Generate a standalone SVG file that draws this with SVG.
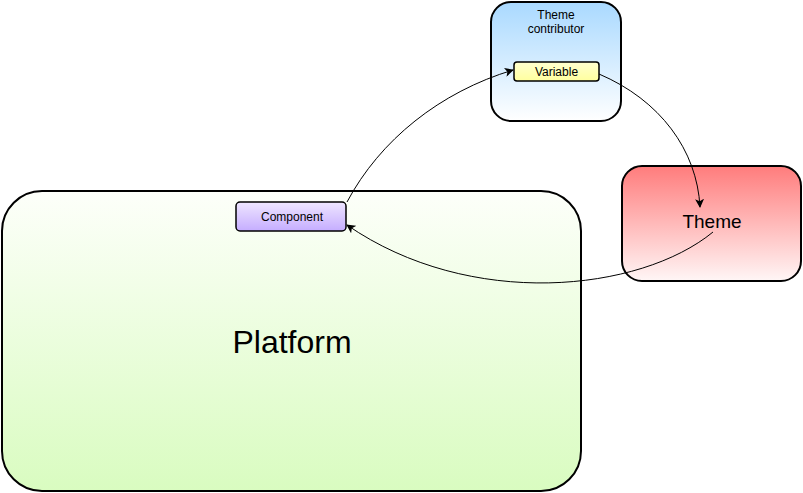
<svg xmlns="http://www.w3.org/2000/svg" width="803" height="493" viewBox="0 0 803 493">
<defs>
<linearGradient id="gPlat" x1="0" y1="0" x2="0" y2="1"><stop offset="0" stop-color="#fdfffa"/><stop offset="1" stop-color="#d9fcc0"/></linearGradient>
<linearGradient id="gTc" x1="0" y1="0" x2="0" y2="1"><stop offset="0" stop-color="#a9d9ff"/><stop offset="1" stop-color="#ffffff"/></linearGradient>
<linearGradient id="gVar" x1="0" y1="0" x2="0" y2="1"><stop offset="0" stop-color="#ffffd0"/><stop offset="1" stop-color="#ffff9e"/></linearGradient>
<linearGradient id="gTheme" x1="0" y1="0" x2="0" y2="1"><stop offset="0" stop-color="#ff7c7c"/><stop offset="1" stop-color="#fff6f6"/></linearGradient>
<linearGradient id="gComp" x1="0" y1="0" x2="0" y2="1"><stop offset="0" stop-color="#efe6ff"/><stop offset="1" stop-color="#c5adff"/></linearGradient>
<marker id="arr" viewBox="0 0 10 10" refX="9" refY="5" markerWidth="9" markerHeight="9" markerUnits="userSpaceOnUse" orient="auto"><path d="M0,0 L10,5 L0,10 L2.5,5 Z" fill="#000"/></marker>
</defs>
<style>
.box{stroke:#000;stroke-width:2}
.small{stroke:#000;stroke-width:1.5}
text{font-family:"Liberation Sans",Arial,sans-serif;fill:#000;text-anchor:middle}
.edge{fill:none;stroke:#000;stroke-width:1;marker-end:url(#arr)}
</style>
<rect width="803" height="493" fill="#fff"/>
<g id="platform">
<rect class="box" x="2" y="191" width="579" height="300" rx="40" ry="40" fill="url(#gPlat)"/>
<text x="292" y="353" font-size="32">Platform</text>
</g>
<g id="theme-contributor">
<rect class="box" x="491" y="2" width="130" height="119" rx="20" ry="20" fill="url(#gTc)"/>
<text x="556" y="19" font-size="12">Theme</text>
<text x="556" y="33" font-size="12">contributor</text>
</g>
<g id="variable">
<rect class="small" x="514" y="62" width="85" height="19" rx="3" ry="3" fill="url(#gVar)"/>
<text x="556.5" y="76" font-size="12">Variable</text>
</g>
<g id="theme">
<rect class="box" x="622" y="166" width="179" height="115" rx="20" ry="20" fill="url(#gTheme)"/>
<text x="712" y="228" font-size="19">Theme</text>
</g>
<g id="component">
<rect class="small" x="236" y="202" width="110" height="29" rx="4" ry="4" fill="url(#gComp)"/>
<text x="292" y="221" font-size="12">Component</text>
</g>
<g id="connectors">
<path class="edge" d="M347,202 C380,140 440,92 513,70"/>
<path class="edge" d="M599,74 C660,100 697,150 700,207"/>
<path class="edge" d="M713,232 C640,292 470,310 347,225"/>
</g>
</svg>
